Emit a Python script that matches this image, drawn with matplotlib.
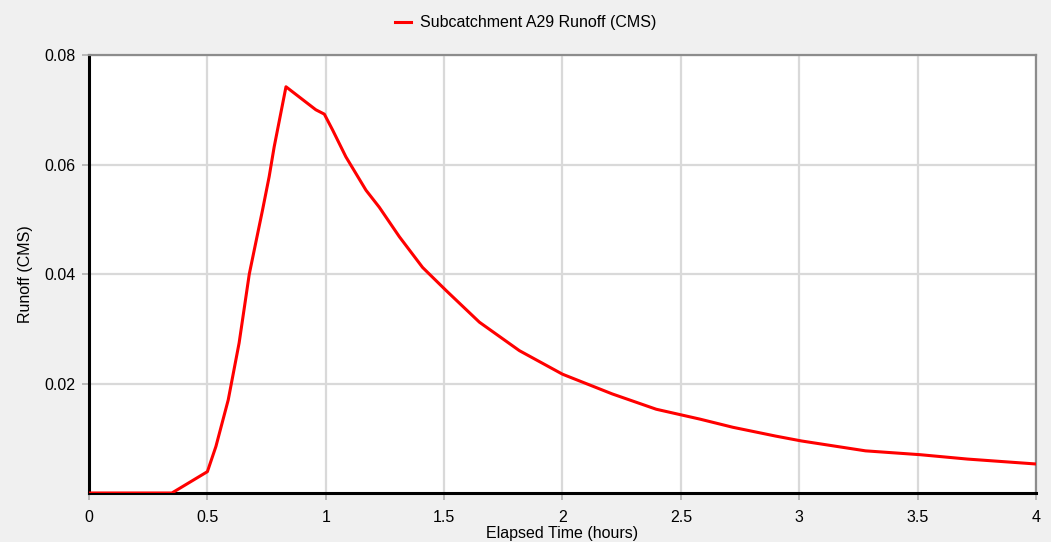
import matplotlib
matplotlib.use("Agg")
import matplotlib.pyplot as plt

# runoff hydrograph
hours = [0.0, 0.35, 0.5, 0.536, 0.588, 0.634, 0.677, 0.733, 0.761, 0.782, 0.832,
         0.958, 0.994, 1.029, 1.085, 1.17, 1.226, 1.311, 1.409, 1.508, 1.649,
         1.818, 2.0, 2.21, 2.396, 2.58, 2.72, 2.90, 3.01, 3.28, 3.51, 3.71, 4.0]
runoff = [0.0, 0.0, 0.0039, 0.0085, 0.017, 0.0274, 0.040, 0.0517, 0.0578, 0.0632, 0.0742,
          0.0700, 0.0692, 0.0663, 0.0614, 0.0553, 0.0522, 0.0468, 0.0412, 0.037, 0.0312,
          0.026, 0.0217, 0.0181, 0.0153, 0.0135, 0.0120, 0.0104, 0.0095, 0.0077, 0.0070, 0.0062, 0.0053]

xticks = [0, 0.5, 1, 1.5, 2, 2.5, 3, 3.5, 4]
xlabels = ['0', '0.5', '1', '1.5', '2', '2.5', '3', '3.5', '4']
yticks = [0.02, 0.04, 0.06, 0.08]
ylabels = ['0.02', '0.04', '0.06', '0.08']

plt.rcParams['font.family'] = ['Liberation Sans', 'DejaVu Sans']

fig = plt.figure(figsize=(10.51, 5.42), dpi=100)
fig.patch.set_facecolor('#f0f0f0')
ax = fig.add_axes([0.0847, 0.0904, 0.9010, 0.8081])
ax.set_facecolor('white')

ax.plot(hours, runoff, color='#ff0000', lw=2.2, label='Subcatchment A29 Runoff (CMS)', zorder=3)

ax.set_xlim(0, 4)
ax.set_ylim(0, 0.08)
ax.set_xticks(xticks)
ax.set_xticklabels(xlabels)
ax.set_yticks(yticks)
ax.set_yticklabels(ylabels)
ax.grid(True, color='#d9d9d9', lw=1.6)
ax.set_axisbelow(True)
ax.tick_params(axis='both', length=5, width=1.2, color='#b0b0b0', labelsize=11.5, pad=7)
ax.tick_params(axis='y', pad=5)

for s in ['left', 'bottom']:
    ax.spines[s].set_color('black')
    ax.spines[s].set_linewidth(2.2)
for s in ['top', 'right']:
    ax.spines[s].set_color('#8c8c8c')
    ax.spines[s].set_linewidth(1.6)

ax.set_xlabel('Elapsed Time (hours)', fontsize=11.5, labelpad=1)
ax.set_ylabel('Runoff (CMS)', fontsize=11.5, labelpad=8)

ax.legend(loc='upper center', bbox_to_anchor=(0.5, 0.995), bbox_transform=fig.transFigure,
          frameon=False, fontsize=11.5, handlelength=1.0, handletextpad=0.6, borderpad=0.3)

fig.savefig('out.png', dpi=100, facecolor=fig.get_facecolor())
